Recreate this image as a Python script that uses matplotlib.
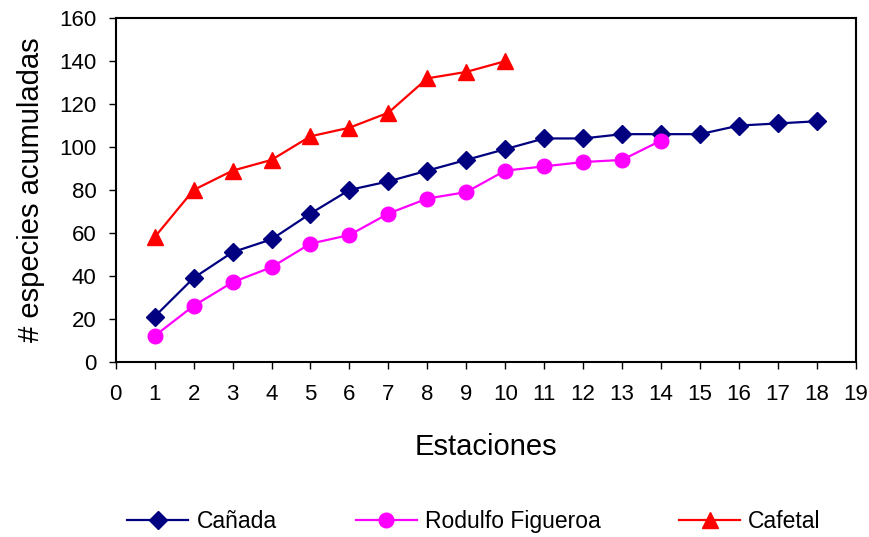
import matplotlib
matplotlib.use("Agg")
import matplotlib.pyplot as plt

plt.rcParams['font.family'] = ['Liberation Sans', 'DejaVu Sans']

estaciones_canada = list(range(1, 19))
canada = [21, 39, 51, 57, 69, 80, 84, 89, 94, 99, 104, 104, 106, 106, 106, 110, 111, 112]
estaciones_rodulfo = list(range(1, 15))
rodulfo = [12, 26, 37, 44, 55, 59, 69, 76, 79, 89, 91, 93, 94, 103]
estaciones_cafetal = list(range(1, 11))
cafetal = [58, 80, 89, 94, 105, 109, 116, 132, 135, 140]

series_names = ["Cañada", "Rodulfo Figueroa", "Cafetal"]
x_ticks = list(range(0, 20))
y_ticks = list(range(0, 161, 20))

fig = plt.figure(figsize=(8.7, 5.37), dpi=100)
ax = fig.add_axes([0.133, 0.3265, 0.8506, 0.6395])

ax.plot(estaciones_canada, canada, color='#000080', lw=1.6, marker='D', ms=9.5,
        label=series_names[0])
ax.plot(estaciones_rodulfo, rodulfo, color='#FF00FF', lw=1.6, marker='o', ms=10.5,
        label=series_names[1])
ax.plot(estaciones_cafetal, cafetal, color='#FF0000', lw=1.6, marker='^', ms=12,
        label=series_names[2])

ax.set_xlim(0, 19)
ax.set_ylim(0, 160)
ax.set_xticks(x_ticks)
ax.set_yticks(y_ticks)
ax.tick_params(axis='both', direction='out', length=5, width=1, labelsize=16)
ax.tick_params(axis='y', pad=9)
ax.tick_params(axis='x', pad=11)
for s in ax.spines.values():
    s.set_linewidth(1.5)
    s.set_color('black')

ax.set_xlabel("Estaciones", fontsize=21, labelpad=20)
ax.set_ylabel("# especies acumuladas", fontsize=21, labelpad=10)

fig.legend(loc='center', bbox_to_anchor=(0.545, 0.028), ncol=3, frameon=False,
           fontsize=16.5, handlelength=2.66, handletextpad=0.35, columnspacing=3.45)

fig.savefig("out.png", dpi=100)
